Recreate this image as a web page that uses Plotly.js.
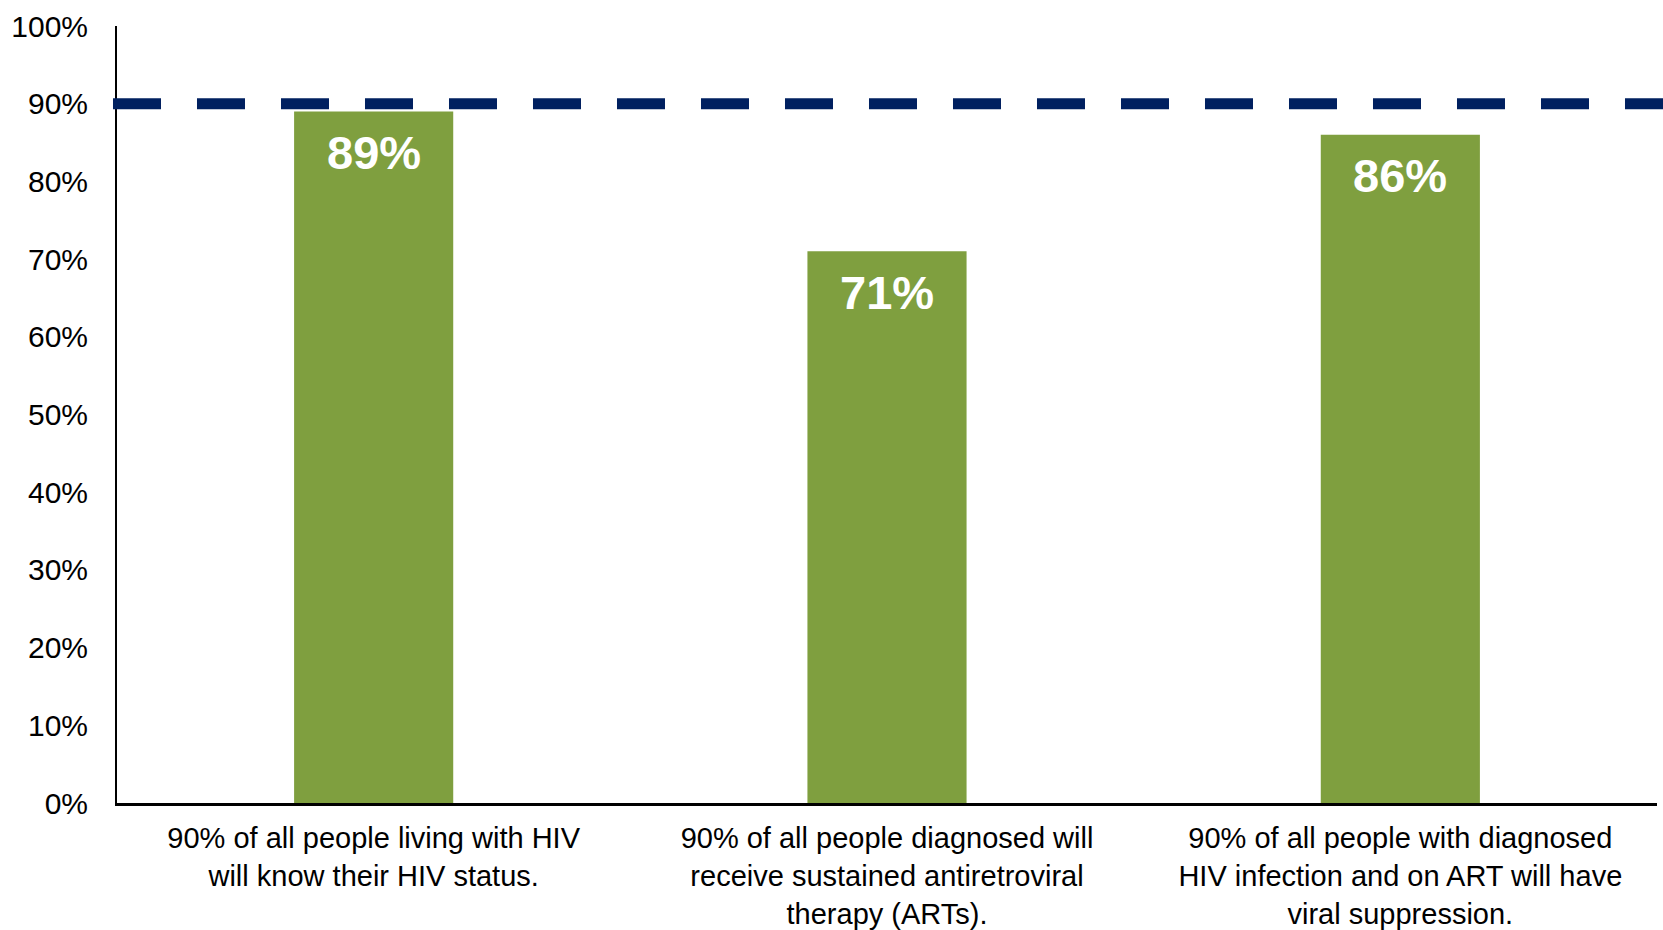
<!DOCTYPE html>
<html>
<head>
<meta charset="utf-8">
<script src="https://cdn.plot.ly/plotly-3.0.1.min.js"></script>
<style>html,body{margin:0;padding:0;background:#fff;}#chart{width:1663px;height:930px;}</style>
</head>
<body>
<div id="chart"></div>
<script>
var categories = [
  "90% of all people living with HIV<br>will know their HIV status.",
  "90% of all people diagnosed will<br>receive sustained antiretroviral<br>therapy (ARTs).",
  "90% of all people with diagnosed<br>HIV infection and on ART will have<br>viral suppression."
];
var values = [89, 71, 86];
var valueLabels = ["89%", "71%", "86%"];
var target = 90;
var yMax = 100;
var yTicks = [0, 10, 20, 30, 40, 50, 60, 70, 80, 90, 100];
var yTickLabels = ["0%", "10%", "20%", "30%", "40%", "50%", "60%", "70%", "80%", "90%", "100%"];

var FONT = "Liberation Sans, Arial, sans-serif";

var trace = {
  type: "bar",
  x: categories,
  y: values,
  width: 0.31,
  marker: {color: "#7F9F3F"},
  hoverinfo: "none"
};

var annotations = categories.map(function (c, i) {
  return {
    x: c, y: values[i], xref: "x", yref: "y",
    text: "<b>" + valueLabels[i] + "</b>",
    showarrow: false, yanchor: "middle", yshift: -41,
    font: {family: FONT, size: 47, color: "#ffffff"}
  };
});

var layout = {
  width: 1663, height: 930,
  margin: {l: 117, r: 6, t: 26, b: 127, pad: 0},
  paper_bgcolor: "#ffffff", plot_bgcolor: "#ffffff",
  showlegend: false,
  font: {family: FONT, size: 29, color: "#000000"},
  xaxis: {
    type: "category",
    showline: true, linecolor: "#000000", linewidth: 2.5,
    showgrid: false, zeroline: false, ticks: "",
    ticklabelstandoff: 8,
    tickfont: {family: FONT, size: 29, color: "#000000"}
  },
  yaxis: {
    range: [0, yMax],
    tickvals: yTicks, ticktext: yTickLabels,
    showline: true, linecolor: "#000000", linewidth: 2,
    showgrid: false, zeroline: false, ticks: "",
    ticklabelstandoff: 21,
    tickfont: {family: FONT, size: 30, color: "#000000"}
  },
  shapes: [{
    type: "line", xref: "paper", yref: "paper",
    x0: -0.0026, x1: 1.004,
    y0: target / yMax, y1: target / yMax,
    line: {color: "#002060", width: 11, dash: "48px,36px"},
    layer: "above"
  }],
  annotations: annotations
};

Plotly.newPlot("chart", [trace], layout, {displayModeBar: false, staticPlot: true});
</script>
</body>
</html>
